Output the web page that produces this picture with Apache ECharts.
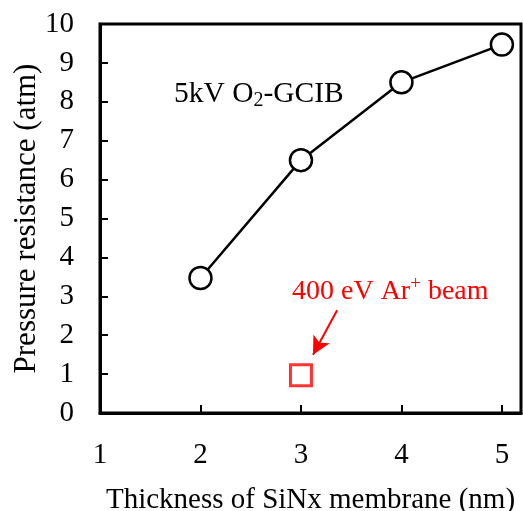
<!DOCTYPE html>
<html><head><meta charset="utf-8">
<script src="https://cdn.jsdelivr.net/npm/echarts@6/dist/echarts.min.js"></script>
<style>html,body{margin:0;padding:0;background:#fff}#c{width:523px;height:511px}</style>
</head><body><div id="c"></div>
<script>
var gcibX = [2, 3, 4, 5];
var gcibY = [3.47, 6.5, 8.5, 9.47];
var arX = [3];
var arY = [0.97];
var xTicks = [1, 2, 3, 4, 5];
var yTicks = [0,1,2,3,4,5,6,7,8,9,10];
var font = '"Liberation Serif", "Times New Roman", serif';
var chart = echarts.init(document.getElementById('c'));
chart.setOption({
  animation: false,
  grid: {left: 100, right: 2, top: 24, bottom: 98, show: true, borderColor: '#000', borderWidth: 3,
         containLabel: false, outerBoundsMode: 'none'},
  xAxis: {
    type: 'value', min: 1, max: 5.19, interval: 1,
    name: 'Thickness of SiNx membrane (nm)', nameLocation: 'middle', nameGap: 73, nameMoveOverlap: false,
    nameTextStyle: {fontFamily: font, fontSize: 29, color: '#000'},
    axisLine: {lineStyle: {color: '#000', width: 3}},
    axisTick: {inside: true, length: 8, lineStyle: {color: '#000', width: 2}},
    axisLabel: {fontFamily: font, fontSize: 29, color: '#000', margin: 28, showMaxLabel: false,
      formatter: function(v){ return xTicks.indexOf(v) >= 0 ? String(v) : ''; }},
    splitLine: {show: false}
  },
  yAxis: {
    type: 'value', min: 0, max: 10, interval: 1,
    name: 'Pressure resistance (atm)', nameLocation: 'middle', nameGap: 58, nameMoveOverlap: false,
    nameTextStyle: {fontFamily: font, fontSize: 31, color: '#000'},
    axisLine: {lineStyle: {color: '#000', width: 3}},
    axisTick: {inside: true, length: 8, lineStyle: {color: '#000', width: 2}},
    axisLabel: {fontFamily: font, fontSize: 29, color: '#000', margin: 26,
      formatter: function(v){ return yTicks.indexOf(v) >= 0 ? String(v) : ''; }},
    splitLine: {show: false}
  },
  series: [
    {
      type: 'line', data: gcibX.map(function(x, i){ return [x, gcibY[i]]; }),
      symbol: 'circle', symbolSize: 22,
      lineStyle: {color: '#000', width: 2.5},
      itemStyle: {color: '#fff', borderColor: '#000', borderWidth: 2.5}
    },
    {
      type: 'scatter', data: arX.map(function(x, i){ return [x, arY[i]]; }),
      symbol: 'rect', symbolSize: 21,
      itemStyle: {color: '#fff', borderColor: '#ff0000', borderWidth: 3},
      markLine: {
        silent: true, symbol: ['none', 'arrow'], symbolSize: [14, 18],
        lineStyle: {color: '#ff0000', width: 2, type: 'solid'},
        label: {show: false},
        data: [[{coord: [3.36, 2.64]}, {coord: [3.12, 1.5]}]]
      }
    }
  ],
  graphic: [
    {type: 'text', left: 174, top: 79, style: {
      text: '{a|5kV O}{s|2}{a|-GCIB}', fill: '#000',
      rich: {a: {fontFamily: font, fontSize: 29.5, fill: '#000'}, s: {fontFamily: font, fontSize: 20, fill: '#000', padding: [14, 0, 0, 0]}}
    }},
    {type: 'text', left: 292, top: 275, style: {
      text: '{a|400 eV Ar}{p|+}{a| beam}',
      rich: {a: {fontFamily: font, fontSize: 28, fill: '#ff0000'}, p: {fontFamily: font, fontSize: 19, fill: '#ff0000', padding: [0, 0, 14, 0]}}
    }}
  ]
});
</script></body></html>
